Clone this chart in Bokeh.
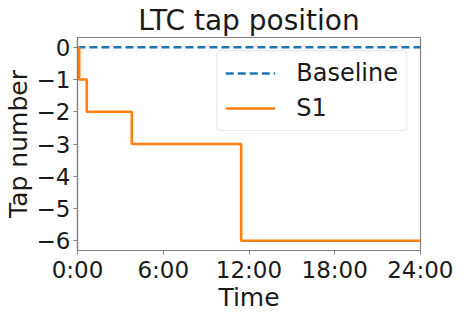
from bokeh.plotting import figure
from bokeh.models import FixedTicker, Legend, LegendItem
from bokeh.embed import file_html
from bokeh.resources import INLINE

# Data
baseline_t = [0, 24]
baseline_v = [0, 0]
s1_t = [0, 0.12, 0.65, 3.8, 11.45, 24]
s1_v = [0, -1, -2, -3, -6, -6]
x_ticks = [0, 6, 12, 18, 24]
x_tick_labels = ["0:00", "6:00", "12:00", "18:00", "24:00"]
y_ticks = [0, -1, -2, -3, -4, -5, -6]
y_tick_labels = ["0", "\u22121", "\u22122", "\u22123", "\u22124", "\u22125", "\u22126"]
title_text = "LTC tap position"
x_label = "Time"
y_label = "Tap number"

FONT = "DejaVu Sans"
TXT = "#1a1a1a"
SPINE = "#808080"

p = figure(width=453, height=314, output_backend="svg", toolbar_location=None,
           x_range=(0, 24), y_range=(-6.3, 0.3),
           min_border_left=71, min_border_right=33, min_border_top=36, min_border_bottom=40)

p.title.text = title_text
p.title.text_font = FONT
p.title.text_font_size = "28px"
p.title.text_font_style = "normal"
p.title.text_color = TXT
p.title.align = "center"
p.title.standoff = 2

p.xgrid.visible = False
p.ygrid.visible = False
p.outline_line_color = SPINE
p.outline_line_width = 1.2

b = p.line(baseline_t, baseline_v, line_color="#1f77b4", line_width=2.6, line_dash="8 4")
s = p.step(s1_t, s1_v, mode="after", line_color="#ff7f0e", line_width=2.6)

for ax in (p.xaxis[0], p.yaxis[0]):
    ax.axis_line_color = SPINE
    ax.axis_line_width = 1.2
    ax.major_tick_line_color = SPINE
    ax.major_tick_in = 0
    ax.major_tick_out = 4
    ax.minor_tick_line_color = None
    ax.major_label_text_font = FONT
    ax.major_label_text_font_size = "23px"
    ax.major_label_text_color = TXT
    ax.major_label_standoff = 3
    ax.axis_label_text_font = FONT
    ax.axis_label_text_font_size = "25px"
    ax.axis_label_text_font_style = "normal"
    ax.axis_label_text_color = TXT

p.xaxis.major_label_standoff = 2
p.xaxis.axis_label_standoff = -3
p.yaxis.axis_label_standoff = 1

p.xaxis.ticker = FixedTicker(ticks=x_ticks)
p.xaxis.major_label_overrides = {t: l for t, l in zip(x_ticks, x_tick_labels)}
p.yaxis.ticker = FixedTicker(ticks=y_ticks)
p.yaxis.major_label_overrides = {t: l for t, l in zip(y_ticks, y_tick_labels)}
p.xaxis.axis_label = x_label
p.yaxis.axis_label = y_label

legend = Legend(items=[LegendItem(label="Baseline", renderers=[b]),
                       LegendItem(label="S1", renderers=[s])],
                location="top_right")
legend.label_text_font = FONT
legend.label_text_font_size = "24px"
legend.label_text_color = TXT
legend.glyph_width = 50
legend.glyph_height = 28
legend.label_height = 28
legend.spacing = 7
legend.padding = 8
legend.margin = 13
legend.label_standoff = 21
legend.border_line_color = "#d0d0d0"
legend.border_line_width = 1
legend.border_radius = 4
legend.background_fill_alpha = 0.8
p.add_layout(legend)

open("out.html", "w").write(file_html(p, INLINE))
